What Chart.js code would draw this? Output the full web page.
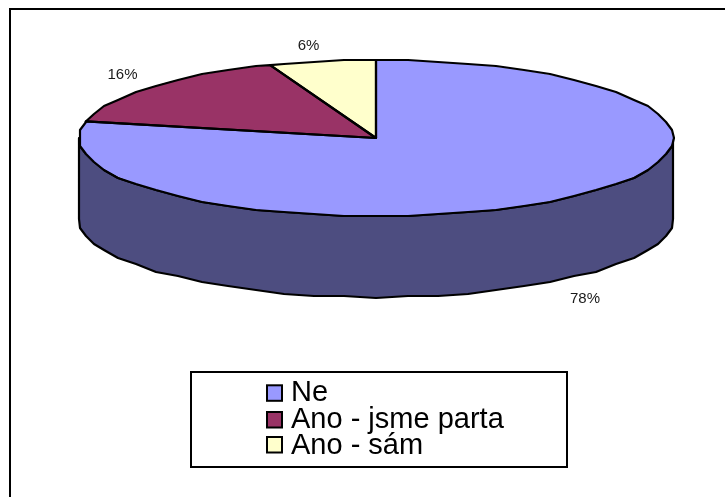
<!DOCTYPE html>
<html><head><meta charset="utf-8">
<style>html,body{margin:0;padding:0;background:#fff}canvas{display:block}</style>
<script src="https://cdn.jsdelivr.net/npm/chart.js@4/dist/chart.umd.min.js"></script>
</head><body><canvas id="c" width="725" height="497"></canvas>
<script>
const categories = ["Ne", "Ano - jsme parta", "Ano - sám"];
const values = [78.4, 15.8, 5.8];
const colors = ["#9999ff", "#993366", "#ffffcc"];
const wallColors = ["#4d4d80", "#4d1a33", "#808066"];

const SQUASH = 78 / 297, DEPTH = 81, GRID = 2, STEP = Math.PI / 30;
const labelAnchors = [[585, 299], [122.5, 75], [308.5, 46]];

// Slightly coarse outline, like the low-resolution polygon of the original drawing.
function rim(c, cx, cy, rx, ry, s, e, join) {
  const lo = Math.min(s, e), hi = Math.max(s, e), ts = [lo];
  for (let k = Math.floor(lo / STEP) + 1; k * STEP < hi - 1e-6; k++) ts.push(k * STEP);
  ts.push(hi);
  if (e < s) ts.reverse();
  ts.forEach((t, k) => {
    let x = cx + rx * Math.cos(t), y = cy + ry * Math.sin(t);
    if (k > 0 && k < ts.length - 1) { x = Math.round(x / GRID) * GRID; y = Math.round(y / GRID) * GRID; }
    if (k === 0 && !join) c.moveTo(x, y); else c.lineTo(x, y);
  });
}

const pie3d = {
  id: "pie3d",
  beforeDraw(chart) {
    const c = chart.ctx;
    c.save();
    c.fillStyle = "#fff"; c.fillRect(0, 0, 725, 497);
    c.strokeStyle = "#000"; c.lineWidth = 2;
    c.beginPath(); c.moveTo(10, 497); c.lineTo(10, 9); c.lineTo(725, 9); c.stroke();
    c.strokeRect(191, 372, 376, 95);
    c.restore();
  },
  beforeDatasetsDraw(chart) {
    const c = chart.ctx;
    chart.getDatasetMeta(0).data.forEach((a, i) => {
      const s = Math.max(a.startAngle, 0), e = Math.min(a.endAngle, Math.PI);
      if (e <= s) return;
      const ry = a.outerRadius * SQUASH;
      c.save();
      c.beginPath();
      rim(c, a.x, a.y, a.outerRadius, ry, s, e, false);
      rim(c, a.x, a.y + DEPTH, a.outerRadius, ry, e, s, true);
      c.closePath();
      c.fillStyle = wallColors[i]; c.fill();
      c.strokeStyle = "#000"; c.lineWidth = 2.2; c.lineJoin = "round"; c.stroke();
      c.restore();
    });
  },
  beforeDatasetDraw(chart) {
    const a = chart.getDatasetMeta(0).data[0], c = chart.ctx;
    c.save();
    c.translate(a.x, a.y); c.scale(1, SQUASH); c.translate(-a.x, -a.y);
  },
  afterDatasetDraw(chart) { chart.ctx.restore(); },
  afterDatasetsDraw(chart) {
    const c = chart.ctx;
    chart.getDatasetMeta(0).data.forEach((a) => {
      c.save();
      c.beginPath();
      c.moveTo(a.x, a.y);
      rim(c, a.x, a.y, a.outerRadius, a.outerRadius * SQUASH, a.startAngle, a.endAngle, true);
      c.closePath();
      c.strokeStyle = "#000"; c.lineWidth = 2.2; c.lineJoin = "round"; c.stroke();
      c.restore();
    });
    c.save();
    c.font = "15px 'Liberation Sans'";
    c.fillStyle = "#1a1a1a"; c.textAlign = "center"; c.textBaseline = "middle";
    values.forEach((v, i) => c.fillText(Math.round(v) + "%", labelAnchors[i][0], labelAnchors[i][1]));
    c.restore();
  },
  afterLayout(chart) {
    const l = chart.legend;
    l.left = 268; l.top = 380.5; l.right = 560; l.bottom = 462;
  },
  afterDraw(chart) {
    const c = chart.ctx;
    c.save();
    c.strokeStyle = "#000"; c.lineWidth = 2;
    [385.3, 412, 437].forEach((y, i) => {
      c.fillStyle = colors[i];
      c.fillRect(267, y, 15, 15.5);
      c.strokeRect(267, y, 15, 15.5);
    });
    c.restore();
  }
};

new Chart(document.getElementById("c"), {
  type: "pie",
  data: { labels: categories, datasets: [{ data: values, backgroundColor: colors, borderWidth: 0, radius: 297 }] },
  options: {
    responsive: false, animation: false,
    layout: { padding: { left: 27, right: 0, top: 0, bottom: 221 } },
    plugins: {
      tooltip: { enabled: false },
      legend: {
        position: "chartArea", align: "start",
        labels: {
          boxWidth: 10.75, boxHeight: 15, padding: -2.25, color: "#000",
          font: { family: "'Liberation Sans'", size: 29 },
          generateLabels(chart) {
            return Chart.overrides.doughnut.plugins.legend.labels.generateLabels(chart)
              .map(l => Object.assign(l, { lineWidth: 0, fillStyle: "rgba(0,0,0,0)", strokeStyle: "rgba(0,0,0,0)" }));
          }
        }
      }
    }
  },
  plugins: [pie3d]
});
</script></body></html>
